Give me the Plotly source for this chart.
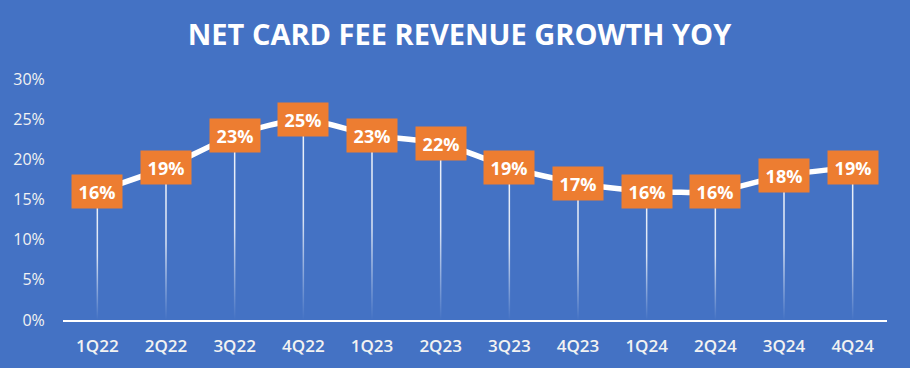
import plotly.graph_objects as go

quarters = ["1Q22", "2Q22", "3Q22", "4Q22", "1Q23", "2Q23", "3Q23", "4Q23", "1Q24", "2Q24", "3Q24", "4Q24"]
growth = [16, 19, 23, 25, 23, 22, 19, 17, 16, 16, 18, 19]
y_ticks = [0, 5, 10, 15, 20, 25, 30]
y_tick_labels = ["0%", "5%", "10%", "15%", "20%", "25%", "30%"]
title_text = "NET CARD FEE REVENUE GROWTH YOY"

BG = "#4472C4"
ORANGE = "#ED7D31"
FONT = "Open Sans"

xpos = list(range(len(quarters)))
half_w = 0.011  # half width of drop line in category units (~1.5px)

fig = go.Figure()

# drop lines: thin filled strips with a vertical gradient fading toward the axis
for i, v in zip(xpos, growth):
    fig.add_trace(go.Scatter(
        x=[i - half_w, i + half_w, i + half_w, i - half_w, i - half_w],
        y=[0, 0, v, v, 0],
        mode="lines", line=dict(width=0, color="rgba(0,0,0,0)"),
        fill="toself",
        fillgradient=dict(
            type="vertical",
            colorscale=[[0, "rgba(255,255,255,0)"], [0.5, "rgba(255,255,255,0.8)"], [1, "rgba(255,255,255,0.92)"]],
        ),
        hoverinfo="skip", showlegend=False,
    ))

fig.add_trace(go.Scatter(
    x=xpos, y=growth, mode="lines",
    line=dict(color="white", width=5.5, shape="spline", smoothing=0.6),
    showlegend=False, cliponaxis=False,
))

for i, v in zip(xpos, growth):
    fig.add_annotation(
        x=i, y=v, text=f"<b>{v}%</b>", showarrow=False,
        bgcolor=ORANGE, width=50, height=33, borderpad=0,
        font=dict(family=FONT, size=18, color="white"),
        xanchor="center", yanchor="middle", valign="middle",
    )

fig.update_layout(
    width=910, height=368,
    paper_bgcolor=BG, plot_bgcolor=BG,
    margin=dict(l=63, r=23, t=79, b=48),
    title=dict(
        text=f"<b>{title_text}</b>", x=0.505, xanchor="center", y=0.905, yanchor="middle",
        font=dict(family=FONT, size=29, color="white"),
    ),
    xaxis=dict(
        showgrid=False, zeroline=False,
        tickvals=xpos, ticktext=quarters,
        showline=True, linecolor="white", linewidth=2,
        ticks="outside", ticklen=10, tickcolor="rgba(0,0,0,0)",
        tickfont=dict(family=FONT, size=17, color="#F2F2F2", weight=600),
        range=[-0.5, len(quarters) - 0.5],
    ),
    yaxis=dict(
        range=[0, 30], tickvals=y_ticks, ticktext=y_tick_labels,
        showgrid=False, zeroline=False, showline=False,
        ticks="outside", ticklen=14, tickcolor="rgba(0,0,0,0)",
        tickfont=dict(family=FONT, size=16, color="#F2F2F2"),
    ),
)

fig.write_html(
    "out.html",
    config={"displayModeBar": False},
    post_script="document.body.style.margin='0';document.body.style.background='#4472C4';",
)
